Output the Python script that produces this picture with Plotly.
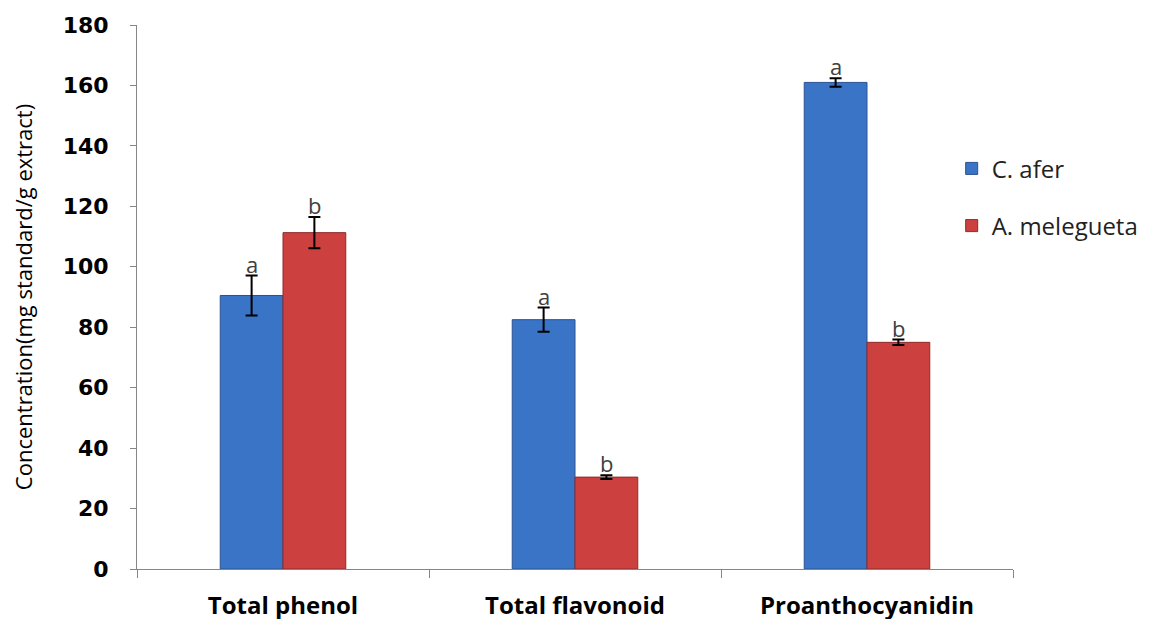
import plotly.graph_objects as go

categories = ["Total phenol", "Total flavonoid", "Proanthocyanidin"]
c_afer = [90.5, 82.5, 161.0]
c_afer_err = [6.6, 4.0, 1.4]
a_meleg = [111.3, 30.4, 75.0]
a_meleg_err = [5.2, 0.6, 0.9]
c_afer_letters = ["a", "a", "a"]
a_meleg_letters = ["b", "b", "b"]
y_ticks = [0, 20, 40, 60, 80, 100, 120, 140, 160, 180]

FONT = "Open Sans, sans-serif"

fig = go.Figure()
fig.add_trace(go.Bar(
    x=categories, y=c_afer, name="C. afer", legendgroup="g1",
    marker=dict(color="#3a74c6", line=dict(color="#2b5290", width=1)),
    error_y=dict(type="data", array=c_afer_err, color="black", thickness=2, width=6),
))
fig.add_trace(go.Bar(
    x=categories, y=a_meleg, name="A. melegueta", legendgroup="g2",
    marker=dict(color="#cc4040", line=dict(color="#8e2a2a", width=1)),
    error_y=dict(type="data", array=a_meleg_err, color="black", thickness=2, width=6),
))

annotations = []
for cat, v, e, t in zip(categories, c_afer, c_afer_err, c_afer_letters):
    annotations.append(dict(x=cat, y=v + e, text=t, showarrow=False, xshift=-31,
                            yanchor="bottom", yshift=-5,
                            font=dict(family=FONT, size=22, color="#404040")))
for cat, v, e, t in zip(categories, a_meleg, a_meleg_err, a_meleg_letters):
    annotations.append(dict(x=cat, y=v + e, text=t, showarrow=False, xshift=31,
                            yanchor="bottom", yshift=-5,
                            font=dict(family=FONT, size=22, color="#404040")))

fig.update_layout(
    width=1153, height=619,
    margin=dict(l=129, r=148, t=17, b=58, autoexpand=False),
    paper_bgcolor="white", plot_bgcolor="white",
    barmode="group", bargap=0.57, bargroupgap=0,
    showlegend=True,
    legend=dict(x=0.93, y=0.777, xanchor="left", yanchor="top",
                font=dict(family=FONT, size=24, color="#222"),
                tracegroupgap=23, bgcolor="rgba(0,0,0,0)"),
    annotations=annotations,
    xaxis=dict(
        automargin=False,
        showline=True, linecolor="#868686", linewidth=1,
        ticks="outside", ticklen=8, tickcolor="#868686", tickson="boundaries",
        tickfont=dict(family=FONT, size=24, color="black", weight="bold"),
        ticklabelstandoff=15, showgrid=False, zeroline=False,
    ),
    yaxis=dict(
        automargin=False,
        range=[0, 180], tickvals=y_ticks,
        showline=True, linecolor="#868686", linewidth=1,
        ticks="outside", ticklen=6, tickcolor="#868686",
        tickfont=dict(family="DejaVu Sans, sans-serif", size=22, color="black", weight="bold"),
        ticklabelstandoff=17, showgrid=False, zeroline=False,
        title=dict(text="Concentration(mg standard/g extract)",
                   font=dict(family=FONT, size=22, color="black"),
                   standoff=25),
    ),
)

fig.write_html("out.html")
